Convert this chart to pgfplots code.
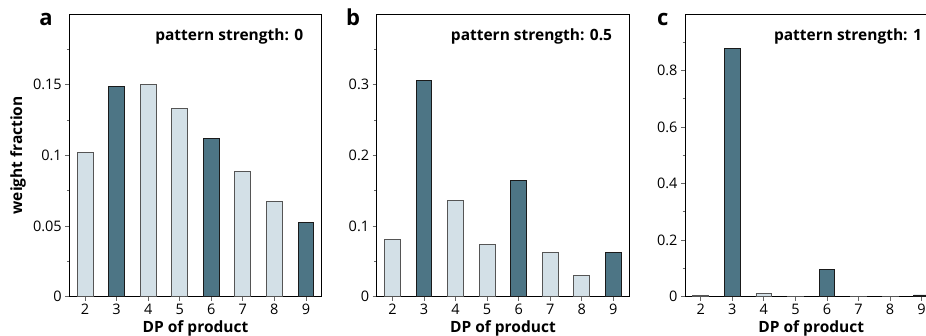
\documentclass[border=0pt]{standalone}
\usepackage{pgfplots}
\pgfplotsset{compat=1.18}
\usepackage{fontspec}
\setmainfont{Open Sans}
\definecolor{lightbar}{HTML}{D3E0E7}
\definecolor{darkbar}{HTML}{4D7585}
\definecolor{lightedge}{HTML}{555555}
\definecolor{darkedge}{HTML}{1A1A1A}
\definecolor{axgray}{HTML}{666666}
\pgfplotsset{
  panel/.style={
    scale only axis, width=252.4pt, height=282.7pt,
    anchor=south west,
    xmin=1.5, xmax=9.5, ymin=0,
    xtick={2,3,4,5,6,7,8,9},
    tick pos=left, tick align=outside,
    major tick length=4pt, minor tick length=2.5pt,
    every tick/.style={axgray, line width=0.8pt},
    axis line style={line width=0.9pt, black},
    ticklabel style={font=\fontsize{14.5}{15}\selectfont},
    /pgf/number format/assume math mode=true,
    yticklabel style={/pgf/number format/fixed, /pgf/number format/precision=3},
    xticklabel style={anchor=base, yshift=-14pt},
    xlabel={\bfseries DP of product},
    xlabel style={font=\fontsize{15.5}{16}\selectfont, at={(axis description cs:0.5,0)}, anchor=base, yshift=-36.3pt},
    ybar, bar width=0.5, bar shift=0pt,
    clip=false,
  },
  lightbars/.style={fill=lightbar, draw=lightedge, line width=0.9pt},
  darkbars/.style={fill=darkbar, draw=darkedge, line width=0.9pt},
}
\newcommand{\paneltitle}[2]{\node[anchor=base east, font=\fontsize{15.5}{16}\selectfont\bfseries] at (rel axis cs:1,1) [xshift=-#2, yshift=-26.7pt] {#1};}
\newcommand{\panelletter}[1]{\node[anchor=base east, font=\fontsize{22}{23}\selectfont\bfseries] at (rel axis cs:0,1) [xshift=-13pt, yshift=-12pt] {#1};}
\begin{document}
\begin{tikzpicture}[x=1pt,y=1pt]
% panel a
\begin{axis}[panel, at={(69.3pt,39.3pt)}, ymax=0.2,
  ytick={0,0.05,0.1,0.15}, minor ytick={0.025,0.075,0.125,0.175},
  ylabel={\bfseries weight fraction},
  ylabel style={font=\fontsize{15.5}{16}\selectfont, at={(axis description cs:-0.203,0.5)}, anchor=center}]
\addplot[lightbars] coordinates {(2,0.102) (4,0.1504) (5,0.1333) (7,0.0883) (8,0.0671)};
\addplot[darkbars] coordinates {(3,0.149) (6,0.1119) (9,0.0523)};
\paneltitle{pattern strength: 0}{15pt}
\panelletter{a}
\end{axis}
% panel b
\begin{axis}[panel, at={(376.7pt,39.3pt)}, ymax=0.4,
  ytick={0,0.1,0.2,0.3}, minor ytick={0.05,0.15,0.25,0.35}]
\addplot[lightbars] coordinates {(2,0.081) (4,0.1366) (5,0.074) (7,0.0627) (8,0.030)};
\addplot[darkbars] coordinates {(3,0.3056) (6,0.1644) (9,0.0621)};
\paneltitle{pattern strength: 0.5}{13.5pt}
\panelletter{b}
\end{axis}
% panel c
\begin{axis}[panel, at={(685pt,39.3pt)}, ymax=1.0,
  ytick={0,0.2,0.4,0.6,0.8}, minor ytick={0.1,0.3,0.5,0.7,0.9}]
\addplot[lightbars] coordinates {(2,0.004) (4,0.012) (5,0.001) (7,0.001) (8,0.0005)};
\addplot[darkbars] coordinates {(3,0.877) (6,0.0967) (9,0.006)};
\paneltitle{pattern strength: 1}{12pt}
\panelletter{c}
\end{axis}
\pgfresetboundingbox
\path[use as bounding box] (0,0) rectangle (926,336);
\end{tikzpicture}
\end{document}
